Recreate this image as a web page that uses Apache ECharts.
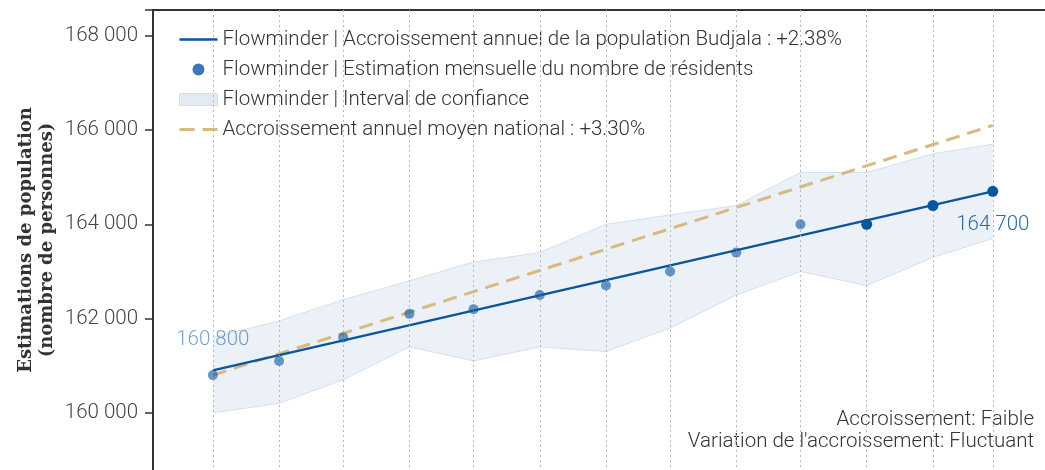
<!DOCTYPE html>
<html>
<head>
<meta charset="utf-8">
<script src="https://cdn.jsdelivr.net/npm/echarts@6/dist/echarts.min.js"></script>
<style>
  html, body { margin: 0; padding: 0; background: #fff; overflow: hidden; }
  /* the plot area runs on past the right and bottom edges of the window */
  #chart { width: 1059px; height: 507px; }
</style>
</head>
<body>
<div id="chart"></div>
<script>
// mois (1er de chaque mois)
const months = ['2022-03-01', '2022-04-01', '2022-05-01', '2022-06-01', '2022-07-01', '2022-08-01',
    '2022-09-01', '2022-10-01', '2022-11-01', '2022-12-01', '2023-01-01', '2023-02-01', '2023-03-01'];
// estimations mensuelles du nombre de résidents
const residents = [160800, 161100, 161600, 162100, 162200, 162500, 162700, 163000, 163400, 164000, 164000, 164400, 164700];
// intervalle de confiance
const ciLower = [160000, 160200, 160700, 161400, 161100, 161400, 161300, 161800, 162500, 163000, 162700, 163300, 163700];
const ciUpper = [161600, 161950, 162400, 162800, 163200, 163400, 164000, 164200, 164400, 165100, 165100, 165500, 165700];
// accroissement annuel (début / fin)
const trendBudjala = [160900, 164700];
const trendNational = [160800, 166100];
// les dernières estimations sont plus fiables
const firstSolidIndex = 10;
const yTicks = [160000, 162000, 164000, 166000, 168000];

const blue = '#0a559c';
const tan = '#d6ba80';
const fmt = v => String(v).replace(/\B(?=(\d{3})+(?!\d))/g, ' ');

const names = {
    trend: 'Flowminder | Accroissement annuel de la population Budjala : +2.38%',
    points: 'Flowminder | Estimation mensuelle du nombre de résidents',
    ci: 'Flowminder | Interval de confiance',
    national: 'Accroissement annuel moyen national : +3.30%'
};

const chart = echarts.init(document.getElementById('chart'));
const last = months.length - 1;

const option = {
    animation: false,
    textStyle: { fontFamily: 'Roboto' },
    grid: {
        left: 153, top: 10, right: 0, bottom: 0,
        show: true, borderColor: '#333', borderWidth: 2, backgroundColor: 'transparent'
    },
    legend: {
        orient: 'vertical',
        left: 174, top: 24,
        itemWidth: 38, itemHeight: 12, itemGap: 9, itemTextGap: 17,
        textStyle: { fontSize: 20.5, lineHeight: 20, color: '#333', fontWeight: 300, fontFamily: 'Roboto' },
        data: [
            { name: names.trend, icon: 'path://M0,0 L38,0 L38,2.5 L0,2.5 Z' },
            { name: names.points, icon: 'circle' },
            { name: names.ci, icon: 'rect', itemStyle: { color: '#e2ebf3', borderColor: '#d3e0ee', borderWidth: 1 } },
            { name: names.national, icon: 'path://M0,0 L15,0 L15,3 L0,3 Z M23,0 L38,0 L38,3 L23,3 Z' }
        ]
    },
    xAxis: {
        type: 'time',
        min: '2022-02-01',
        max: '2023-04-01',
        axisLine: { show: false },
        axisTick: { show: false },
        axisLabel: { show: false },
        splitLine: { show: false }
    },
    yAxis: {
        type: 'value',
        min: 158000,
        max: 168550,
        interval: 2000,
        axisLine: { show: true, lineStyle: { color: '#333', width: 2 } },
        axisTick: { show: true, length: 8, lineStyle: { color: '#333', width: 1.5 } },
        axisLabel: {
            margin: 15, fontSize: 20.5, color: '#444', fontWeight: 300,
            formatter: v => yTicks.includes(v) ? fmt(v) : ''
        },
        splitLine: { show: false }
    },
    graphic: [
        {
            type: 'text', x: 37, y: 240, rotation: Math.PI / 2,
            style: {
                text: 'Estimations de population\n(nombre de personnes)',
                font: 'bold 18px "DejaVu Serif"', fill: '#333',
                align: 'center', verticalAlign: 'middle', lineHeight: 21
            }
        },
        {
            type: 'text', x: 1034, y: 420,
            style: {
                text: 'Accroissement: Faible', font: '300 20.5px Roboto', fill: '#333',
                align: 'right', verticalAlign: 'middle'
            }
        },
        {
            type: 'text', x: 1034, y: 442,
            style: {
                text: "Variation de l'accroissement: Fluctuant", font: '300 20.5px Roboto', fill: '#333',
                align: 'right', verticalAlign: 'middle'
            }
        }
    ],
    series: [
        {
            name: 'ci-lower',
            type: 'line',
            stack: 'ci',
            symbol: 'none',
            silent: true,
            lineStyle: { color: '#d3e0ee', width: 1 },
            areaStyle: { opacity: 0 },
            data: months.map((m, i) => [m, ciLower[i]]),
            markLine: {
                silent: true,
                symbol: 'none',
                label: { show: false },
                lineStyle: { color: '#b8b8b8', type: [2, 3], width: 1 },
                data: months.map(m => ({ xAxis: m }))
            },
            z: 1
        },
        {
            name: names.ci,
            type: 'line',
            stack: 'ci',
            symbol: 'none',
            silent: true,
            color: '#e2ebf3',
            lineStyle: { color: '#d3e0ee', width: 1 },
            areaStyle: { color: 'rgba(31,90,160,0.12)' },
            data: months.map((m, i) => [m, ciUpper[i] - ciLower[i]]),
            z: 1
        },
        {
            name: names.national,
            type: 'line',
            symbol: 'none',
            color: tan,
            lineStyle: { color: tan, width: 3, type: [14, 8] },
            data: [[months[0], trendNational[0]], [months[last], trendNational[1]]],
            z: 3
        },
        {
            name: names.trend,
            type: 'line',
            symbol: 'none',
            color: blue,
            lineStyle: { color: blue, width: 2.5 },
            data: [[months[0], trendBudjala[0]], [months[last], trendBudjala[1]]],
            z: 4
        },
        {
            name: names.points,
            type: 'scatter',
            color: blue,
            z: 5,
            data: months.map((m, i) => {
                const solid = i >= firstSolidIndex;
                const item = {
                    value: [m, residents[i]],
                    symbolSize: solid ? 11 : 10,
                    itemStyle: { color: blue, opacity: solid ? 1 : 0.6 }
                };
                if (i === 0) {
                    item.label = {
                        show: true, position: 'top', distance: 20, fontSize: 20.5, fontWeight: 300,
                        color: '#1d62a6', formatter: () => fmt(residents[i])
                    };
                } else if (i === last) {
                    item.label = {
                        show: true, position: 'bottom', distance: 18, fontSize: 20.5, fontWeight: 300,
                        color: '#2e6aa6', formatter: () => fmt(residents[i])
                    };
                }
                return item;
            })
        }
    ]
};

chart.setOption(option);
</script>
</body>
</html>
